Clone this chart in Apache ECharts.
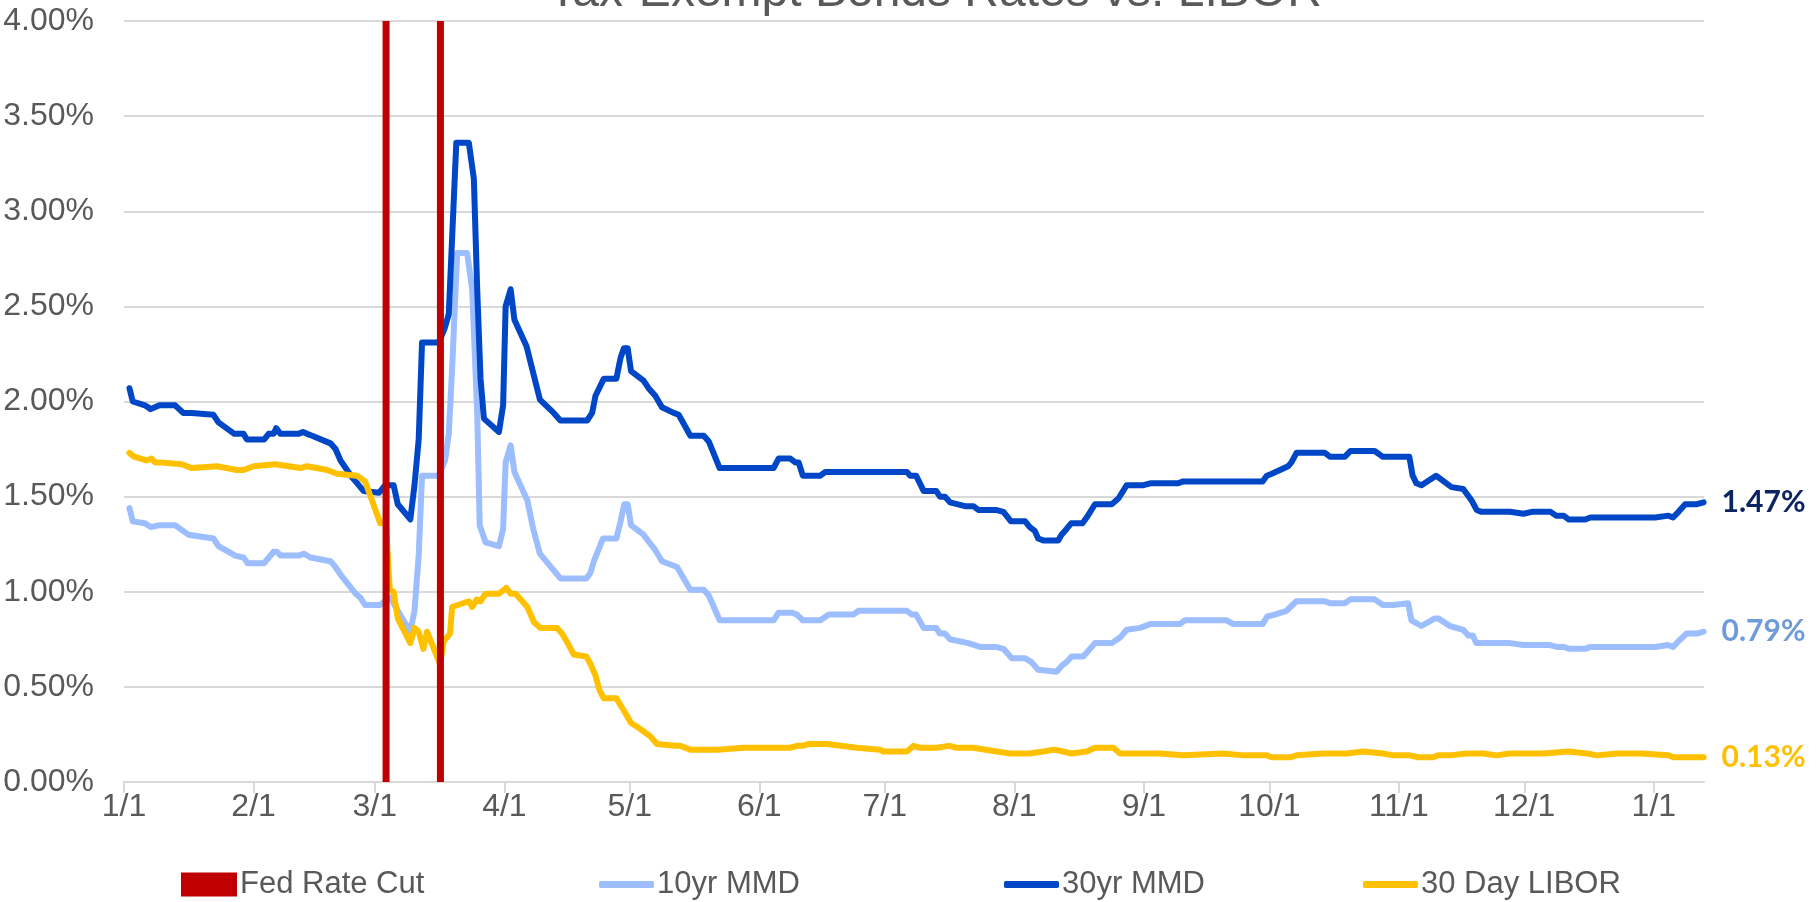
<!DOCTYPE html>
<html>
<head>
<meta charset="utf-8">
<script src="https://cdn.jsdelivr.net/npm/echarts@6/dist/echarts.min.js"></script>
<style>
html,body{margin:0;padding:0;background:#fff;}
#chart{width:1818px;height:902px;}
</style>
</head>
<body>
<div id="chart"></div>
<script>
// x values are day offsets from 1/1/2020 (2020 is a leap year; 1/1/2021 = day 366)
const monthTicks = [0, 31, 60, 91, 121, 152, 182, 213, 244, 274, 305, 335, 366];
const monthLabels = ['1/1','2/1','3/1','4/1','5/1','6/1','7/1','8/1','9/1','10/1','11/1','12/1','1/1'];

const fedCutDays = [62.7, 75.7];
const fedCutValues = [4, 4];

const mmd30 = [
 [1.3,2.07],[2.1,2.00],[5,1.98],[6.4,1.96],[8.5,1.98],[12.2,1.98],[14.2,1.94],[16.2,1.94],[21.4,1.93],[22.6,1.89],
 [26.4,1.83],[28.6,1.83],[29.4,1.80],[33.5,1.80],[34.6,1.83],[35.8,1.83],[36.4,1.86],[37.4,1.83],[41.8,1.83],[42.8,1.84],
 [43.8,1.83],[45,1.82],[49.4,1.78],[50.6,1.75],[51.8,1.69],[54.6,1.60],[55.8,1.57],[57.3,1.53],[61,1.52],[62.5,1.56],
 [64.5,1.56],[65.5,1.46],[68.5,1.38],[69.5,1.56],[70.5,1.80],[71.3,2.31],[75.3,2.31],[76.8,2.39],[77.7,2.46],[79.5,3.36],
 [82.5,3.36],[83.7,3.17],[84.5,2.59],[85.3,2.12],[86.1,1.91],[89.7,1.84],[90.7,1.98],[91.3,2.50],[92.5,2.59],[93.4,2.43],
 [96.3,2.29],[97.9,2.15],[99.5,2.01],[102.8,1.94],[104.4,1.90],[110.8,1.90],[112,1.94],[112.8,2.03],[114.8,2.12],[117.8,2.12],
 [118.8,2.23],[119.6,2.28],[120.5,2.28],[121.3,2.16],[124.3,2.11],[125.5,2.07],[127.1,2.03],[128.7,1.97],[131.5,1.94],[132.7,1.93],
 [135.5,1.82],[138.7,1.82],[139.9,1.79],[142.5,1.65],[155.4,1.65],[156.6,1.70],[159.4,1.70],[160.6,1.68],[161.4,1.68],[162.4,1.61],
 [166.6,1.61],[167.8,1.63],[187.3,1.63],[188.1,1.61],[189.5,1.61],[191.3,1.53],[194.3,1.53],[195.2,1.50],[196.4,1.50],[197.6,1.47],
 [201.2,1.45],[203.2,1.45],[204.4,1.43],[208.6,1.43],[210.4,1.42],[212.2,1.37],[215.6,1.37],[216.7,1.34],[217.9,1.32],[218.7,1.28],
 [219.9,1.27],[223.5,1.27],[224.3,1.30],[225.5,1.33],[226.6,1.36],[229.3,1.36],[230.3,1.39],[232.3,1.46],[236.3,1.46],[237.9,1.49],
 [239.9,1.56],[243.9,1.56],[245.5,1.57],[252.2,1.57],[253.4,1.58],[272.4,1.58],[273.4,1.61],[274.6,1.62],[278.5,1.66],[279.3,1.68],
 [280.5,1.73],[287.3,1.73],[288.5,1.71],[292.1,1.71],[293.4,1.74],[299.2,1.74],[301.1,1.71],[307.5,1.71],[308.3,1.61],[309.2,1.57],
 [310.4,1.56],[313.9,1.61],[317.6,1.55],[320.4,1.54],[322.4,1.48],[323.6,1.43],[324.8,1.42],[331.6,1.42],[334.8,1.41],[336.8,1.42],
 [341.3,1.42],[342.6,1.40],[344.4,1.40],[345.6,1.38],[349.6,1.38],[350.8,1.39],[366.3,1.39],[369.5,1.40],[370.6,1.39],[371.9,1.42],
 [373.5,1.46],[376.3,1.46],[377.9,1.47]
];

const mmd10 = [
 [1.3,1.44],[2.1,1.37],[5,1.36],[6.4,1.34],[8.5,1.35],[12.2,1.35],[15.4,1.30],[21.4,1.28],[22.6,1.24],[26.6,1.19],
 [28.6,1.18],[29.6,1.15],[33.5,1.15],[35.8,1.21],[36.6,1.21],[37.5,1.19],[41.8,1.19],[43,1.20],[44.6,1.18],[49.4,1.16],
 [50.6,1.13],[51.8,1.09],[55.4,0.99],[56.5,0.97],[57.7,0.93],[61.3,0.93],[62.8,0.96],[63.7,0.97],[65.5,0.90],[68.5,0.79],
 [69.5,0.90],[70.5,1.19],[71.3,1.61],[75.3,1.61],[76.8,1.69],[77.7,1.83],[78.5,2.17],[79.7,2.78],[82.1,2.78],[83.3,2.59],
 [84.5,1.94],[85.1,1.35],[86.5,1.26],[89.7,1.24],[90.7,1.33],[91.3,1.68],[92.5,1.77],[93.4,1.63],[96.5,1.48],[97.9,1.33],
 [99.5,1.20],[104.4,1.07],[110.6,1.07],[111.6,1.10],[112.4,1.16],[114.6,1.28],[117.8,1.28],[118.8,1.37],[119.7,1.46],[120.5,1.46],
 [121.3,1.35],[124.3,1.30],[125.3,1.27],[127.1,1.22],[128.7,1.16],[132.3,1.13],[135.5,1.01],[138.7,1.01],[139.9,0.98],[142.5,0.85],
 [155.4,0.85],[156.6,0.89],[159.8,0.89],[161,0.88],[162.4,0.85],[166.6,0.85],[168.6,0.88],[174.5,0.88],[175.7,0.90],[187.3,0.90],
 [188.5,0.88],[189.5,0.88],[191.3,0.81],[194.3,0.81],[195.2,0.78],[196.4,0.78],[197.6,0.75],[202,0.73],[204.8,0.71],[208.6,0.71],
 [210.4,0.70],[212.4,0.65],[215.6,0.65],[217.1,0.63],[218.7,0.59],[223.1,0.58],[224.3,0.61],[225.5,0.63],[226.7,0.66],[229.5,0.66],
 [230.7,0.69],[232.3,0.73],[236.3,0.73],[238.3,0.76],[239.9,0.80],[243.1,0.81],[245.5,0.83],[252.6,0.83],[253.8,0.85],[263.8,0.85],
 [265.4,0.83],[272.4,0.83],[273.5,0.87],[275.3,0.88],[278.1,0.90],[280.5,0.95],[287.3,0.95],[288.5,0.94],[292.1,0.94],[293.4,0.96],
 [299.2,0.96],[301.2,0.93],[303.6,0.93],[307.2,0.94],[308,0.85],[310.4,0.82],[313.6,0.86],[314.4,0.86],[317.2,0.82],[320.4,0.80],
 [321.6,0.77],[322.7,0.77],[323.5,0.73],[331.6,0.73],[334.8,0.72],[341.2,0.72],[342.8,0.71],[344.4,0.71],[345.8,0.70],[349.6,0.70],
 [350.8,0.71],[366.3,0.71],[369.3,0.72],[370.6,0.71],[371.9,0.74],[373.8,0.78],[376.3,0.78],[377.9,0.79]
];

const libor30 = [
 [1.3,1.73],[2.4,1.71],[5.4,1.69],[6.6,1.70],[7.4,1.68],[8.5,1.68],[13.8,1.67],[16.2,1.65],[22.2,1.66],[27,1.64],
 [28.6,1.64],[31,1.66],[36.2,1.67],[42.2,1.65],[43.8,1.66],[48.6,1.64],[51,1.62],[55.8,1.61],[57.7,1.58],[61.3,1.36],
 [62.6,1.37],[63.6,1.01],[64.5,1.00],[65.5,0.86],[68.5,0.73],[69.5,0.81],[70.5,0.79],[71.6,0.70],[72.5,0.79],[75.6,0.62],
 [76.5,0.74],[78,0.78],[78.5,0.92],[82.5,0.95],[83.3,0.92],[84.4,0.96],[85.3,0.95],[86.5,0.99],[89.7,0.99],[91.5,1.02],
 [92.5,0.99],[93.7,0.99],[96.5,0.92],[98.1,0.84],[99.6,0.81],[103.6,0.81],[104.8,0.78],[106.4,0.72],[107.6,0.67],[110.6,0.66],
 [111.6,0.62],[112.8,0.56],[113.8,0.48],[114.8,0.44],[117.8,0.44],[120,0.36],[121.3,0.31],[122.8,0.29],[124.7,0.26],[125.9,0.24],
 [127.5,0.20],[131.9,0.19],[133.1,0.19],[135.5,0.17],[141.9,0.17],[148.3,0.18],[149.8,0.18],[156.2,0.18],[159.4,0.18],[161,0.19],
 [162.4,0.19],[163.8,0.20],[168.2,0.20],[175.3,0.18],[180.9,0.17],[181.7,0.16],[187.3,0.16],[188.9,0.19],[190.5,0.18],[194.4,0.18],
 [197.4,0.19],[199.2,0.18],[203.2,0.18],[208.8,0.16],[212,0.15],[215.6,0.15],[216.7,0.15],[219.9,0.16],[222.5,0.17],[224.7,0.16],
 [226.7,0.15],[230.3,0.16],[232.3,0.18],[236.7,0.18],[238.3,0.15],[243.9,0.15],[247.8,0.15],[253.4,0.14],[263,0.15],[267.8,0.14],
 [273.4,0.14],[274.6,0.13],[279,0.13],[280.5,0.14],[286.9,0.15],[289.3,0.15],[292.5,0.15],[296.5,0.16],[301.2,0.15],[303.6,0.14],
 [307.6,0.14],[309.6,0.13],[313.2,0.13],[314.4,0.14],[317.2,0.14],[321.2,0.15],[325.2,0.15],[328.4,0.14],[331.6,0.15],[339.6,0.15],
 [345.6,0.16],[350,0.15],[352.4,0.14],[357.2,0.15],[362.8,0.15],[369.5,0.14],[370.7,0.13],[377.9,0.13]
];

const seriesNames = ['Fed Rate Cut', '10yr MMD', '30yr MMD', '30 Day LIBOR'];
const titleText = 'Tax-Exempt Bonds Rates vs. LIBOR';

const FONT = '"Liberation Sans", Arial, sans-serif';
const GREY = '#595959';
const FS = 32;

const chart = echarts.init(document.getElementById('chart'), null, {renderer: 'canvas'});

function endLabel(color) {
  return {
    show: true,
    formatter: p => p.value[1].toFixed(2) + '%',
    color: color,
    fontFamily: 'Lato, "Liberation Sans", sans-serif',
    fontWeight: 'bold',
    fontSize: 30,
    distance: 18
  };
}

function lineLegend(name, left) {
  return {
    data: [{name: name, icon: 'roundRect'}],
    left: left, top: 864,
    itemWidth: 55, itemHeight: 7, itemGap: 0,
    textStyle: {fontFamily: FONT, fontSize: 31, color: GREY, padding: [0,0,0,-2]},
    selectedMode: false
  };
}

const option = {
  animation: false,
  backgroundColor: '#ffffff',
  title: {
    text: titleText,
    left: 930, top: -36, textAlign: 'center',
    textStyle: {fontFamily: FONT, fontSize: 48, fontWeight: 'normal', color: GREY}
  },
  legend: [
    {
      data: [{name: seriesNames[0], icon: 'rect'}],
      left: 176, top: 864,
      itemWidth: 56, itemHeight: 24, itemGap: 0,
      textStyle: {fontFamily: FONT, fontSize: 31, color: GREY, padding: [0,0,0,-2]},
      selectedMode: false
    },
    lineLegend(seriesNames[1], 594),
    lineLegend(seriesNames[2], 999),
    lineLegend(seriesNames[3], 1358)
  ],
  grid: {left: 124, right: 114, top: 21, bottom: 120, containLabel: false, outerBoundsMode: 'none'},
  xAxis: {
    type: 'value',
    min: 0, max: 378,
    splitLine: {show: false},
    axisLine: {show: true, lineStyle: {color: '#d9d9d9', width: 2}},
    axisTick: {show: true, customValues: monthTicks, length: 11, lineStyle: {color: '#d9d9d9', width: 2}},
    axisLabel: {
      show: true, customValues: monthTicks, margin: 9,
      fontFamily: FONT, fontSize: FS, color: GREY,
      formatter: v => monthLabels[monthTicks.indexOf(v)]
    }
  },
  yAxis: {
    type: 'value',
    min: 0, max: 4, interval: 0.5,
    axisLine: {show: false},
    axisTick: {show: false},
    splitLine: {show: true, lineStyle: {color: '#d9d9d9', width: 2}},
    axisLabel: {
      margin: 30, fontFamily: FONT, fontSize: FS, color: GREY,
      formatter: v => v.toFixed(2) + '%'
    }
  },
  series: [
    {
      name: seriesNames[1], type: 'line', data: mmd10,
      showSymbol: false, symbol: 'none', z: 2,
      lineStyle: {color: '#9cbdfe', width: 6, join: 'round', cap: 'round'},
      itemStyle: {color: '#9cbdfe'},
      endLabel: endLabel('#6f9bd8')
    },
    {
      name: seriesNames[2], type: 'line', data: mmd30,
      showSymbol: false, symbol: 'none', z: 3,
      lineStyle: {color: '#0047c7', width: 6, join: 'round', cap: 'round'},
      itemStyle: {color: '#0047c7'},
      endLabel: endLabel('#0c2461')
    },
    {
      name: seriesNames[3], type: 'line', data: libor30,
      showSymbol: false, symbol: 'none', z: 4,
      lineStyle: {color: '#ffc000', width: 6, join: 'round', cap: 'round'},
      itemStyle: {color: '#ffc000'},
      endLabel: endLabel('#ffc000')
    },
    {
      name: seriesNames[0], type: 'bar', z: 5,
      data: fedCutDays.map((d, i) => [d, fedCutValues[i]]),
      barWidth: 7,
      itemStyle: {color: '#c00000'}
    }
  ]
};
chart.setOption(option);
</script>
</body>
</html>
